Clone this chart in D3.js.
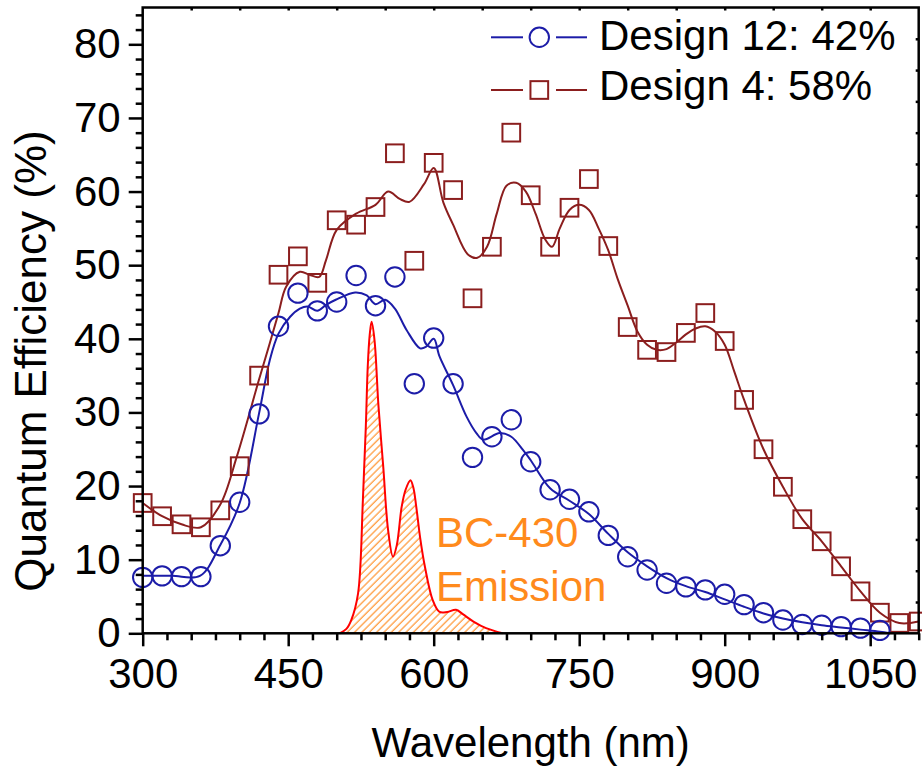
<!DOCTYPE html>
<html lang="en">
<head>
  <meta charset="UTF-8">
  <title>Quantum Efficiency</title>
  <style>
    body { margin: 0; background: #fff; }
    svg text { font-family: Arial, "Liberation Sans", sans-serif; }
  </style>
</head>
<body>
  <svg width="922" height="767" id="chart"></svg>
  <script src="https://cdn.jsdelivr.net/npm/d3@7"></script>
  <script>
    // measured points (wavelength nm, QE %)
    let wl12 = [300, 320, 340, 360, 380, 400, 420, 440, 460, 480, 500, 520, 540, 560, 580, 600, 620, 640, 660, 680,
                700, 720, 740, 760, 780, 800, 820, 840, 860, 880, 900, 920, 940, 960, 980, 1000, 1020, 1040, 1060];
    let qe12 = [7.6, 7.8, 7.7, 7.7, 11.9, 17.8, 29.8, 41.7, 46.2, 43.8, 45.0, 48.6, 44.5, 48.4, 33.9, 40.1, 33.9, 23.9, 26.7, 29.0,
                23.3, 19.5, 18.2, 16.5, 13.3, 10.4, 8.6, 6.8, 6.3, 5.9, 5.3, 3.9, 2.8, 1.8, 1.2, 1.1, 0.9, 0.7, 0.4];

    let wl4 = [300, 320, 340, 360, 380, 400, 420, 440, 460, 480, 500, 520, 540, 560, 580, 600, 620, 640, 660, 680,
               700, 720, 740, 760, 780, 800, 820, 840, 860, 880, 900, 920, 940, 960, 980, 1000, 1020, 1040, 1060, 1080, 1100];
    let qe4 = [17.7, 15.9, 14.8, 14.4, 16.7, 22.7, 35.0, 48.7, 51.2, 47.6, 56.1, 55.5, 57.9, 65.2, 50.6, 63.9, 60.2, 45.5, 52.5, 68.0,
               59.5, 52.5, 57.8, 61.7, 52.6, 41.6, 38.5, 38.2, 40.8, 43.5, 39.7, 31.7, 25.0, 19.9, 15.5, 12.5, 9.1, 5.7, 2.8, 1.4, 1.6];

    // smoothed fit curves
    let fit12Wl = [300, 330, 359, 380, 400, 420, 431, 440, 452, 462, 470, 480, 489, 499, 519, 531, 540, 550, 560, 572,
                   586, 592, 600, 606, 620, 634, 644, 651, 668, 680, 692, 700, 720, 740, 760, 780, 800, 820, 840, 860,
                   880, 900, 920, 940, 960, 980, 1000, 1020, 1040, 1060, 1070];
    let fit12Qe = [7.8, 7.8, 7.8, 12.0, 17.7, 29.9, 37.1, 40.7, 43.0, 44.1, 44.4, 43.8, 44.6, 45.3, 46.3, 45.9, 44.7, 45.3, 44.1, 41.2,
                   38.7, 38.9, 40.0, 37.6, 33.7, 29.4, 27.2, 26.3, 27.2, 26.7, 24.9, 23.5, 19.7, 18.0, 16.2, 13.5, 11.0, 9.1, 7.5, 6.4,
                   5.6, 4.6, 3.6, 2.7, 2.0, 1.5, 1.1, 0.8, 0.5, 0.2, 0.0];

    let fit4Wl = [300, 320, 340, 360, 380, 397, 420, 431, 440, 448, 462, 472, 482, 489, 500, 520, 540, 553, 565, 575,
                  590, 600, 610, 620, 635, 645, 655, 665, 675, 685, 695, 705, 715, 722, 730, 740, 750, 760, 770, 780,
                  790, 800, 810, 820, 830, 840, 850, 860, 870, 880, 890, 900, 910, 920, 940, 960, 980, 1000, 1020, 1040,
                  1060, 1080, 1100];
    let fit4Qe = [17.7, 15.9, 14.8, 14.4, 17.5, 24.0, 34.5, 39.4, 43.5, 47.1, 49.1, 48.7, 48.4, 50.7, 54.8, 57.0, 58.2, 60.0, 59.0, 58.6,
                  61.0, 63.2, 58.5, 55.5, 51.5, 51.0, 52.5, 57.0, 60.8, 61.2, 60.0, 57.0, 53.5, 52.5, 55.0, 57.5, 58.2, 57.5, 55.0, 52.0,
                  48.0, 44.5, 41.0, 39.2, 38.5, 38.6, 39.5, 40.6, 41.4, 41.7, 41.0, 39.2, 35.5, 31.7, 25.0, 19.9, 15.5, 12.5, 9.1, 5.7,
                  2.8, 1.4, 1.6];

    // BC-430 emission spectrum (scaled to the QE axis)
    let emWl = [503, 510, 515, 522, 527, 530, 532, 534, 536, 539, 543, 548, 553, 558, 562, 567, 571, 576, 579, 582,
                586, 591, 599, 606, 614, 623, 630, 641, 654, 671];
    let emVal = [0, 0.6, 1.8, 5.4, 18.1, 28.0, 36.2, 40.5, 42.3, 39.8, 31.0, 22.6, 14.0, 10.4, 12.0, 17.2, 19.5, 20.8, 19.8, 17.2,
                 13.0, 9.0, 4.5, 2.9, 2.9, 3.2, 2.6, 1.6, 0.7, 0];

    let xTicks = [300, 450, 600, 750, 900, 1050];
    let yTicks = [0, 10, 20, 30, 40, 50, 60, 70, 80];
    let legendLabels = ['Design 12: 42%', 'Design 4: 58%'];

    let svg = d3.select('#chart');
    let plotL = 142.7, plotR = 918.7, plotT = 7.5, plotB = 633.3;
    let blue = '#1c1ca8', wine = '#8b1e1e', orange = '#ff8a1c';

    let x = d3.scaleLinear().domain([300, 1100]).range([plotL, plotR]);
    let y = d3.scaleLinear().domain([0, 85]).range([plotB, plotT]);

    // hatch pattern for emission
    let defs = svg.append('defs');
    defs.append('pattern')
        .attr('id', 'hatch')
        .attr('patternUnits', 'userSpaceOnUse')
        .attr('width', 5.2).attr('height', 10)
        .attr('patternTransform', 'rotate(45)')
        .append('line')
        .attr('x1', 1).attr('y1', 0).attr('x2', 1).attr('y2', 10)
        .attr('stroke', orange).attr('stroke-width', 1.1);
    defs.append('clipPath').attr('id', 'plotClip')
        .append('rect').attr('x', plotL).attr('y', plotT).attr('width', plotR - plotL).attr('height', plotB - plotT);

    // emission
    let emPts = emWl.map((w, i) => [w, emVal[i]]);
    svg.append('path')
        .datum(emPts)
        .attr('fill', 'url(#hatch)')
        .attr('d', d3.area().x(d => x(d[0])).y0(y(0)).y1(d => y(d[1])).curve(d3.curveCatmullRom.alpha(0.5)));
    svg.append('path')
        .datum(emPts)
        .attr('fill', 'none')
        .attr('stroke', '#ff0000')
        .attr('stroke-width', 2)
        .attr('d', d3.line().x(d => x(d[0])).y(d => y(d[1])).curve(d3.curveCatmullRom.alpha(0.5)));

    let fitLine = d3.line().x(d => x(d[0])).y(d => y(d[1])).curve(d3.curveCatmullRom.alpha(0.5));

    svg.append('path')
        .datum(fit4Wl.map((w, i) => [w, fit4Qe[i]]))
        .attr('fill', 'none').attr('stroke', wine).attr('stroke-width', 2)
        .attr('clip-path', 'url(#plotClip)')
        .attr('d', fitLine);
    svg.append('path')
        .datum(fit12Wl.map((w, i) => [w, fit12Qe[i]]))
        .attr('fill', 'none').attr('stroke', blue).attr('stroke-width', 2)
        .attr('clip-path', 'url(#plotClip)')
        .attr('d', fitLine);

    // markers
    let sq = 17.7;
    svg.append('g').selectAll('rect')
        .data(wl4.map((w, i) => [w, qe4[i]]))
        .join('rect')
        .attr('x', d => x(d[0]) - sq / 2)
        .attr('y', d => y(d[1]) - sq / 2)
        .attr('width', sq).attr('height', sq)
        .attr('fill', 'none').attr('stroke', wine).attr('stroke-width', 2);
    svg.append('g').selectAll('circle')
        .data(wl12.map((w, i) => [w, qe12[i]]))
        .join('circle')
        .attr('cx', d => x(d[0]))
        .attr('cy', d => y(d[1]))
        .attr('r', 9.7)
        .attr('fill', 'none').attr('stroke', blue).attr('stroke-width', 2);

    // axes
    let minorX = d3.range(300, 1101, 25).filter(v => v % 150 !== 0);
    let minorY = d3.range(0, 85, 2).filter(v => v % 10 !== 0);

    svg.append('g').attr('transform', `translate(0,${plotB})`)
        .call(d3.axisBottom(x).tickValues(xTicks).tickSize(13).tickPadding(12).tickFormat(d3.format('d')));
    svg.append('g').attr('transform', `translate(0,${plotB})`)
        .call(d3.axisBottom(x).tickValues(minorX).tickSize(7).tickFormat(''));
    svg.append('g').attr('transform', `translate(${plotL},0)`)
        .call(d3.axisLeft(y).tickValues(yTicks).tickSize(14).tickPadding(8));
    svg.append('g').attr('transform', `translate(${plotL},0)`)
        .call(d3.axisLeft(y).tickValues(minorY).tickSize(7).tickFormat(''));
    svg.append('g').attr('transform', `translate(0,${plotT})`)
        .call(d3.axisBottom(x).tickValues(d3.range(350, 1100, 50)).tickSize(3).tickFormat(''));
    svg.append('g').attr('transform', `translate(${plotR},0)`)
        .call(d3.axisLeft(y).tickValues(d3.range(1, 20).map(k => k * 4.25)).tickSize(3).tickFormat(''));

    svg.selectAll('.domain').remove();
    svg.selectAll('.tick line').attr('stroke', '#000').attr('stroke-width', 2.5);
    svg.selectAll('.tick text').attr('font-size', 42).attr('fill', '#000');

    svg.append('rect')
        .attr('x', plotL).attr('y', plotT)
        .attr('width', plotR - plotL).attr('height', plotB - plotT)
        .attr('fill', 'none').attr('stroke', '#000').attr('stroke-width', 2.5);

    // titles
    svg.append('text')
        .attr('x', (plotL + plotR) / 2).attr('y', 757)
        .attr('text-anchor', 'middle').attr('font-size', 42)
        .text('Wavelength (nm)');
    svg.append('text')
        .attr('transform', 'translate(46,361) rotate(-90)')
        .attr('text-anchor', 'middle').attr('font-size', 44)
        .text('Quantum Efficiency (%)');

    // emission label
    svg.append('text').attr('x', 436).attr('y', 547).attr('font-size', 42).attr('fill', orange).text('BC-430');
    svg.append('text').attr('x', 436).attr('y', 601).attr('font-size', 42).attr('fill', orange).text('Emission');

    // legend
    let legend = svg.append('g');
    let rows = [{y: 37.3, ty: 50, color: blue, shape: 'circle'}, {y: 90, ty: 100, color: wine, shape: 'square'}];
    rows.forEach((r, i) => {
      legend.append('line').attr('x1', 491).attr('x2', 523).attr('y1', r.y).attr('y2', r.y)
          .attr('stroke', r.color).attr('stroke-width', 2);
      legend.append('line').attr('x1', 556).attr('x2', 587).attr('y1', r.y).attr('y2', r.y)
          .attr('stroke', r.color).attr('stroke-width', 2);
      if (r.shape === 'circle') {
        legend.append('circle').attr('cx', 539.3).attr('cy', r.y).attr('r', 9.7)
            .attr('fill', 'none').attr('stroke', r.color).attr('stroke-width', 2);
      } else {
        legend.append('rect').attr('x', 539.3 - sq / 2).attr('y', r.y - sq / 2).attr('width', sq).attr('height', sq)
            .attr('fill', 'none').attr('stroke', r.color).attr('stroke-width', 2);
      }
      legend.append('text').attr('x', 599).attr('y', r.ty).attr('font-size', 42).text(legendLabels[i]);
    });
  </script>
</body>
</html>
